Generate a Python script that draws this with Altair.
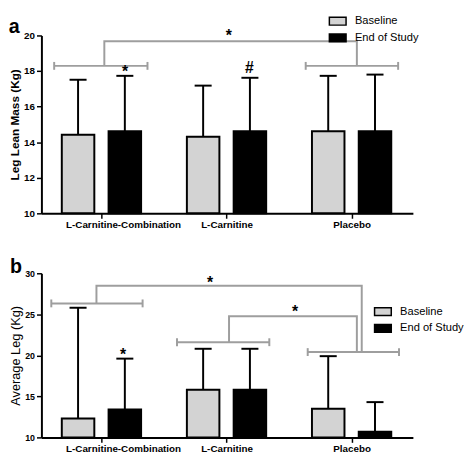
import json
import altair as alt
import pandas as pd

FONT = "Liberation Sans"

# ---------------- data ----------------
categories = ["L-Carnitine-Combination", "L-Carnitine", "Placebo"]
series = ["Baseline", "End of Study"]
group_pos = [0.5, 1.5, 2.5]

# panel a: Leg Lean Mass (Kg)
lean_baseline = [14.42, 14.31, 14.62]
lean_baseline_sd = [3.09, 2.87, 3.11]
lean_end = [14.62, 14.62, 14.62]
lean_end_sd = [3.11, 3.00, 3.18]

# panel b: Average Leg (Kg)
avg_baseline = [12.3, 15.8, 13.5]
avg_baseline_sd = [13.5, 5.0, 6.4]
avg_end = [13.4, 15.8, 10.7]
avg_end_sd = [6.2, 5.0, 3.6]

# significance brackets (x in category units, y in data units)
lean_br_left = [0.122, 2.133]
lean_br_right = [0.868, 2.872]
lean_br_y = [18.29, 18.29]
lean_link_xa = [0.523]
lean_link_xb = [2.542]
lean_link_ya = [18.29]
lean_link_yb = [18.29]
lean_link_top = [19.67]
lean_sig_text = ["*", "*", "#"]
lean_sig_x = [1.518, 0.688, 1.683]
lean_sig_y = [19.68, 17.64, 17.90]

avg_br_left = [0.099, 1.104, 2.149]
avg_br_right = [0.829, 1.842, 2.879]
avg_br_y = [26.33, 21.6, 20.4]
avg_link_xa = [0.46, 1.52]
avg_link_xb = [2.581, 2.542]
avg_link_ya = [26.33, 21.6]
avg_link_yb = [20.4, 20.4]
avg_link_top = [28.49, 24.77]
avg_sig_text = ["*", "*", "*"]
avg_sig_x = [1.369, 2.047, 0.672]
avg_sig_y = [28.25, 24.64, 19.48]

GRAY = "#9e9e9e"
BAR_HALF = 0.13
BAR_SHIFT = 0.187
CAP_HALF = 0.068
X_DOMAIN = [0.02, 2.99]
W = 378


def panel(letter, letter_dy, ytitle, yweight, ysize, ylabsize, ylabweight,
          mb, sb, me, se, ydom, yvals, height,
          brl, brr, bry, lxa, lxb, lya, lyb, ltop,
          stext, sx, sy, legx, legy):
    rows = []
    for i, c in enumerate(categories):
        rows.append({"category": c, "series": series[0], "pos": group_pos[i], "mean": mb[i], "sd": sb[i]})
        rows.append({"category": c, "series": series[1], "pos": group_pos[i], "mean": me[i], "sd": se[i]})
    df = pd.DataFrame(rows)

    xscale = alt.Scale(domain=X_DOMAIN, nice=False, zero=False)
    yscale = alt.Scale(domain=ydom, nice=False, zero=False)

    xaxis = alt.Axis(
        values=group_pos,
        labelExpr=f"{json.dumps(categories)}[floor(datum.value)]",
        title=None, grid=False,
        domainColor="black", domainWidth=2,
        tickColor="black", tickWidth=1.5, tickSize=5,
        labelFont=FONT, labelFontSize=10, labelFontWeight="bold", labelColor="black",
        labelPadding=1, labelFlush=False, labelOverlap=False,
        labelOffset={"condition": {"test": "datum.value < 1", "value": 22}, "value": 0},
    )
    yaxis = alt.Axis(
        values=yvals, title=ytitle, grid=False,
        titleFont=FONT, titleFontSize=ysize, titleFontWeight=yweight, titleColor="black",
        titlePadding=2,
        domainColor="black", domainWidth=2,
        tickColor="black", tickWidth=1.5, tickSize=5,
        labelFont=FONT, labelFontSize=ylabsize, labelFontWeight=ylabweight, labelColor="black",
        labelPadding=2,
    )

    def X(f):
        return alt.X(f, scale=xscale, axis=xaxis)

    def Y(f):
        return alt.Y(f, scale=yscale, axis=yaxis)

    base = alt.Chart(df).transform_calculate(
        x0=f"datum.pos + (datum.series == '{series[0]}' ? {-BAR_SHIFT - BAR_HALF} : {BAR_SHIFT - BAR_HALF})",
        x1=f"datum.x0 + {2 * BAR_HALF}",
        xm=f"datum.x0 + {BAR_HALF}",
        capl=f"datum.xm - {CAP_HALF}",
        capr=f"datum.xm + {CAP_HALF}",
        top="datum.mean + datum.sd",
        floor=str(ydom[0]),
    )

    bars = base.mark_rect(stroke="black", strokeWidth=2).encode(
        x=X("x0:Q"),
        x2="x1:Q",
        y=Y("mean:Q"),
        y2="floor:Q",
        fill=alt.Fill(
            "series:N",
            scale=alt.Scale(domain=series, range=["#d3d3d3", "#000000"]),
            legend=alt.Legend(
                orient="none", legendX=legx, legendY=legy, title=None,
                symbolType="M-1,-0.47H1V0.47H-1Z", symbolSize=289,
                symbolStrokeColor="black", symbolStrokeWidth=1.5, symbolOpacity=1,
                labelFont=FONT, labelFontSize=11.3, labelColor="black",
                labelOffset=8, rowPadding=0, padding=0,
            ),
        ),
    )
    err = base.mark_rule(color="black", strokeWidth=2).encode(
        x=X("xm:Q"), y=Y("mean:Q"), y2="top:Q"
    )
    cap = base.mark_rule(color="black", strokeWidth=2).encode(
        x=X("capl:Q"), x2="capr:Q", y=Y("top:Q")
    )

    br_df = pd.DataFrame({"left": brl, "right": brr, "y": bry})
    br = alt.Chart(br_df).mark_rule(color=GRAY, strokeWidth=2).encode(
        x=X("left:Q"), x2="right:Q", y=Y("y:Q")
    )
    br_ends = alt.Chart(br_df).transform_fold(["left", "right"], as_=["side", "xe"]).mark_tick(
        orient="vertical", size=8, thickness=2, color=GRAY, opacity=1
    ).encode(x=X("xe:Q"), y=Y("y:Q"))

    pts = []
    for k in range(len(lxa)):
        pts += [
            {"id": k, "o": 0, "x": lxa[k], "y": lya[k]},
            {"id": k, "o": 1, "x": lxa[k], "y": ltop[k]},
            {"id": k, "o": 2, "x": lxb[k], "y": ltop[k]},
            {"id": k, "o": 3, "x": lxb[k], "y": lyb[k]},
        ]
    links = alt.Chart(pd.DataFrame(pts)).mark_line(color=GRAY, strokeWidth=2, strokeJoin="miter").encode(
        x=X("x:Q"), y=Y("y:Q"), detail="id:N", order="o:Q"
    )

    sig = alt.Chart(pd.DataFrame({"t": stext, "x": sx, "y": sy})).mark_text(
        font=FONT, fontSize=16, fontWeight="bold", color="black", baseline="alphabetic", align="center"
    ).encode(x=X("x:Q"), y=Y("y:Q"), text="t:N")

    return alt.layer(bars, err, cap, br, br_ends, links, sig).properties(
        width=W, height=height,
        title=alt.TitleParams(letter, anchor="start", frame="bounds", font=FONT, fontSize=20,
                              fontWeight="bold", color="black", offset=0, dy=letter_dy),
    )


top = panel("a", 25, "Leg Lean Mass (Kg)", "bold", 12, 10, "bold",
            lean_baseline, lean_baseline_sd, lean_end, lean_end_sd,
            [10, 20], [10, 12, 14, 16, 18, 20], 181,
            lean_br_left, lean_br_right, lean_br_y,
            lean_link_xa, lean_link_xb, lean_link_ya, lean_link_yb, lean_link_top,
            lean_sig_text, lean_sig_x, lean_sig_y, 292, -24)

bottom = panel("b", 8, "Average Leg (Kg)", "normal", 13, 9, "bold",
               avg_baseline, avg_baseline_sd, avg_end, avg_end_sd,
               [10, 30], [10, 15, 20, 25, 30], 167,
               avg_br_left, avg_br_right, avg_br_y,
               avg_link_xa, avg_link_xb, avg_link_ya, avg_link_yb, avg_link_top,
               avg_sig_text, avg_sig_x, avg_sig_y, 338, 29.5)

chart = alt.vconcat(top, bottom, spacing=61, bounds="flush").resolve_scale(
    fill="independent", x="independent", y="independent"
).resolve_legend(fill="independent").properties(
    padding=0, background="white"
).configure_view(stroke=None)

chart.save("out.html", embed_options={"renderer": "svg", "actions": False})
